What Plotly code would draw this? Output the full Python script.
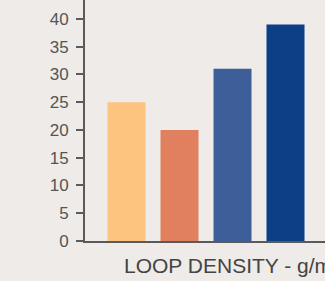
import plotly.graph_objects as go

categories = ["A", "B", "C", "D"]
values = [25, 20, 31, 39]
colors = ["#FDC47F", "#E0805E", "#3D5E99", "#0B3F86"]
tick_vals = [0, 5, 10, 15, 20, 25, 30, 35, 40]
x_title = "LOOP DENSITY - g/m²"

fig = go.Figure(go.Bar(
    x=list(range(len(categories))), y=values,
    marker=dict(color=colors, line=dict(width=0)),
    hoverinfo="skip",
))

bg = "#EEEBE8"
fig.update_layout(
    width=325, height=281,
    margin=dict(l=85, r=0, t=0, b=40),
    paper_bgcolor=bg, plot_bgcolor=bg,
    bargap=0.283,
    showlegend=False,
    font=dict(family="Liberation Sans, Arial", color="#555555"),
    xaxis=dict(range=[-0.783, 3.745], showticklabels=False, ticks="",
               showgrid=False, zeroline=False, showline=True,
               linecolor="#5a5a5a", linewidth=2),
    yaxis=dict(range=[0, 43.4], tickvals=tick_vals, ticks="outside",
               ticklen=7, tickwidth=2, tickcolor="#5a5a5a",
               showgrid=False, zeroline=False, showline=True,
               linecolor="#5a5a5a", linewidth=2,
               tickfont=dict(size=17, color="#555555"), ticklabelstandoff=4),
    annotations=[dict(text=x_title, xref="paper", yref="paper",
                      x=(122 - 85) / 240, y=-24 / 241, xanchor="left",
                      yanchor="middle", showarrow=False,
                      font=dict(size=21, color="#444444"))],
)

fig.write_html("out.html", config={"displayModeBar": False},
               post_script="document.body.style.margin='0';document.body.style.overflow='hidden';")
